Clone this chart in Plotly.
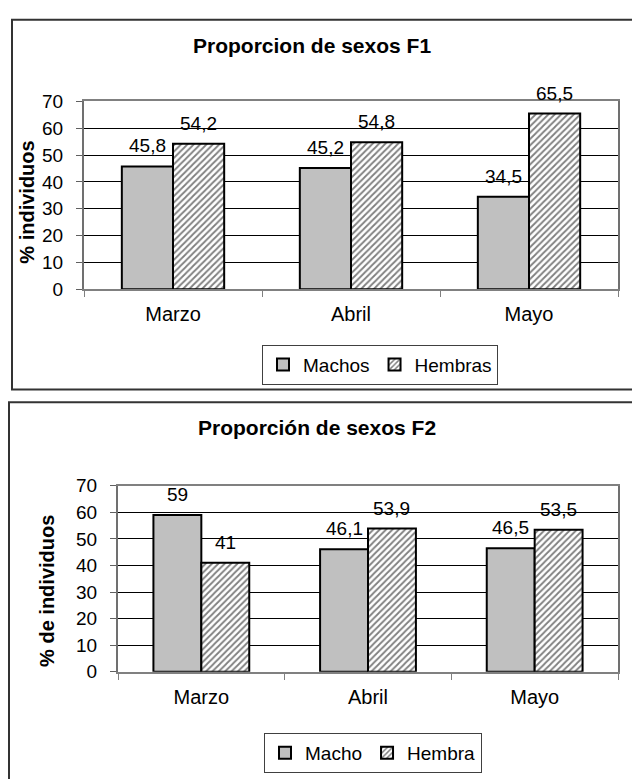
import plotly.graph_objects as go

W, H = 632, 779

months = ["Marzo", "Abril", "Mayo"]
f1_machos = [45.8, 45.2, 34.5]
f1_hembras = [54.2, 54.8, 65.5]
f2_macho = [59, 46.1, 46.5]
f2_hembra = [41, 53.9, 53.5]
titles = ["Proporcion de sexos F1", "Proporción de sexos F2"]
ytitles = ["% individuos", "% de individuos"]
names1 = ["Machos", "Hembras"]
names2 = ["Macho", "Hembra"]
yticks = [0, 10, 20, 30, 40, 50, 60, 70]

FONT = "Arial, 'Liberation Sans', sans-serif"


def px(x):
    return x / W


def py(y):
    return 1 - y / H


def fmt(v):
    return f"{v:g}".replace(".", ",")


fig = go.Figure()

charts = [
    dict(xa="x", ya="y", leg="legend", names=names1, data=[f1_machos, f1_hembras]),
    dict(xa="x2", ya="y2", leg="legend2", names=names2, data=[f2_macho, f2_hembra]),
]

for c in charts:
    fig.add_trace(go.Bar(
        x=months, y=c["data"][0], name=c["names"][0],
        xaxis=c["xa"], yaxis=c["ya"], legend=c["leg"],
        marker=dict(color="#C0C0C0", line=dict(color="black", width=2)),
    ))
    fig.add_trace(go.Bar(
        x=months, y=c["data"][1], name=c["names"][1],
        xaxis=c["xa"], yaxis=c["ya"], legend=c["leg"],
        marker=dict(color="white",
                    pattern=dict(shape="/", fgcolor="black", bgcolor="white",
                                 size=4.5, solidity=0.4),
                    line=dict(color="black", width=2)),
    ))

BARGAP = 0.425
plot_x = [(84, 618), (118, 618)]
plot_y = [(94, 287), (489, 680)]

xcommon = dict(type="category", ticks="outside", tickson="boundaries", ticklen=6,
               tickcolor="#808080", tickwidth=1, showline=True, linecolor="#808080",
               linewidth=2, mirror=True, showgrid=False,
               tickfont=dict(size=20, color="black", family=FONT),
               ticklabelstandoff=6)
ycommon = dict(range=[0, 70], tickmode="array", tickvals=yticks, ticks="outside",
               ticklen=6, tickcolor="#606060", showgrid=True, gridcolor="black",
               gridwidth=1, zeroline=False, showline=True, linecolor="#707070",
               linewidth=2, mirror=True,
               tickfont=dict(size=19, color="black", family=FONT),
               ticklabelstandoff=9)

layout = dict(
    width=W, height=H, margin=dict(l=0, r=0, t=0, b=0),
    paper_bgcolor="white", plot_bgcolor="white",
    barmode="group", bargap=BARGAP, bargroupgap=0,
    font=dict(family=FONT, color="black"),
    xaxis=dict(domain=[px(plot_x[0][0]), px(plot_x[0][1])], anchor="y", **xcommon),
    yaxis=dict(domain=[py(plot_y[0][1]), py(plot_y[0][0])], anchor="x", **ycommon),
    xaxis2=dict(domain=[px(plot_x[1][0]), px(plot_x[1][1])], anchor="y2", **xcommon),
    yaxis2=dict(domain=[py(plot_y[1][1]), py(plot_y[1][0])], anchor="x2", **ycommon),
    legend=dict(x=px(262), y=py(344), xanchor="left", yanchor="top", orientation="h",
                bordercolor="#404040", borderwidth=1, bgcolor="white",
                font=dict(size=19, color="black", family=FONT), itemwidth=30),
    legend2=dict(x=px(264), y=py(743), xanchor="left", yanchor="top", orientation="h",
                 bordercolor="#404040", borderwidth=1, bgcolor="white",
                 font=dict(size=19, color="black", family=FONT), itemwidth=30),
    showlegend=True,
)
fig.update_layout(**layout)

# frames
fig.add_shape(type="rect", xref="paper", yref="paper", x0=px(12), x1=px(660),
              y0=py(390), y1=py(10), line=dict(color="#333333", width=2), layer="below")
fig.add_shape(type="rect", xref="paper", yref="paper", x0=px(9), x1=px(660),
              y0=py(830), y1=py(403), line=dict(color="#333333", width=2), layer="below")

annotations = []
title_pos = [(312, 36), (317, 429)]
ytitle_pos = [(27, 198), (47, 597)]
for i, c in enumerate(charts):
    annotations.append(dict(text=f"<b>{titles[i]}</b>", x=px(title_pos[i][0]), y=py(title_pos[i][1]),
                            xref="paper", yref="paper", showarrow=False,
                            xanchor="center", yanchor="middle",
                            font=dict(size=21, color="black", family=FONT)))
    annotations.append(dict(text=f"<b>{ytitles[i]}</b>", x=px(ytitle_pos[i][0]), y=py(ytitle_pos[i][1]),
                            xref="paper", yref="paper", showarrow=False, textangle=-90,
                            xanchor="center", yanchor="middle",
                            font=dict(size=20, color="black", family=FONT)))
    catw = (plot_x[i][1] - plot_x[i][0]) / len(months)
    half = catw * (1 - BARGAP) / 4
    for j, series in enumerate(c["data"]):
        for m, v in zip(months, series):
            annotations.append(dict(text=fmt(v), x=m, y=v, xref=c["xa"], yref=c["ya"],
                                    showarrow=False, xanchor="center", yanchor="bottom",
                                    xshift=(-half if j == 0 else half), yshift=8,
                                    font=dict(size=19, color="black", family=FONT)))
fig.update_layout(annotations=annotations)

fig.write_html("out.html",
               config={"displayModeBar": False},
               post_script="document.body.style.margin='0px';document.body.style.overflow='hidden';")
